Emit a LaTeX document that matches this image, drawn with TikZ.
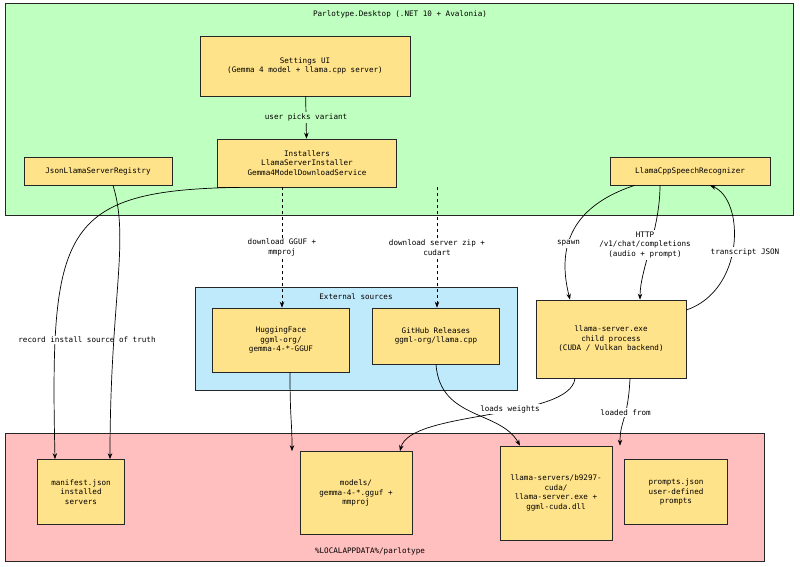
\documentclass[tikz,border=0pt]{standalone}
\usepackage{fontspec}
\setmonofont{DejaVu Sans Mono}
\usetikzlibrary{arrows.meta}
\begin{document}
\begin{tikzpicture}[x=1pt,y=-1pt,font=\ttfamily\fontsize{7.6}{9.5}\selectfont,
 grp/.style={draw=black!85,line width=0.7pt},
 box/.style={draw=black!85,fill=bx,line width=0.7pt,align=center,inner sep=3pt},
 ar/.style={-{Stealth[length=6pt]},line width=0.7pt},
 da/.style={ar,dashed},
 lab/.style={fill=white,align=center,inner sep=1.5pt}]
\definecolor{bx}{HTML}{FFE38A}
\useasboundingbox (0,0) rectangle (800,566);
\draw[grp,fill=green!25!white] (5,3) rectangle (793,215);
\node (t1) at (400,14) {Parlotype.Desktop (.NET 10 + Avalonia)};
\draw[grp,fill=cyan!25!white] (195,287) rectangle (517,390);
\node (t2) at (356,297) {External sources};
\draw[grp,fill=red!25!white] (5,433) rectangle (764,561);
\node (t3) at (370,551) {\%LOCALAPPDATA\%/parlotype};

\node[box,minimum width=210pt,minimum height=60pt] (set) at (305,66) {Settings UI\\(Gemma 4 model + llama.cpp server)};
\node[box,minimum width=179pt,minimum height=48pt] (ins) at (307,163) {Installers\\LlamaServerInstaller\\Gemma4ModelDownloadService};
\node[box,minimum width=148pt,minimum height=28pt] (reg) at (98,171) {JsonLlamaServerRegistry};
\node[box,minimum width=160pt,minimum height=28pt] (rec) at (690,171) {LlamaCppSpeechRecognizer};
\node[box,minimum width=137pt,minimum height=64pt] (hf) at (281,340) {HuggingFace\\ggml-org/\\gemma-4-*-GGUF};
\node[box,minimum width=127pt,minimum height=56pt] (gh) at (436,336) {GitHub Releases\\ggml-org/llama.cpp};
\node[box,minimum width=150pt,minimum height=78pt] (ls) at (611,339) {llama-server.exe\\child process\\(CUDA / Vulkan backend)};
\node[box,minimum width=87pt,minimum height=65pt] (man) at (81,492) {manifest.json\\installed\\servers};
\node[box,minimum width=112pt,minimum height=83pt] (mod) at (356,493) {models/\\gemma-4-*.gguf +\\mmproj};
\node[box,minimum width=112pt,minimum height=94pt] (lsv) at (556,493) {llama-servers/b9297-\\cuda/\\llama-server.exe +\\ggml-cuda.dll};
\node[box,minimum width=103pt,minimum height=65pt] (pr) at (676,492) {prompts.json\\user-defined\\prompts};

\draw[ar] (set) -- node[lab,fill=green!25!white]{user picks variant} (ins);
\draw[ar] (ins.200) .. controls (60,190) and (50,230) .. (man.north west -| 55,0);
\node[lab] (l1) at (87,340) {record install source of truth};
\draw[ar] (reg.south) ++(15,0) .. controls (130,240) and (110,300) .. (man.north -| 110,0);
\draw[da] (ins.south -| 282,0) -- node[lab]{download GGUF +\\mmproj} (hf.north -| 282,0);
\draw[da] (ins.south -| 437,0) -- node[lab]{download server zip +\\cudart} (gh.north -| 437,0);
\draw[ar] (rec.south west) ++(25,0) .. controls (560,210) and (560,260) .. node[lab,pos=0.55]{spawn} (ls.north -| 570,0);
\draw[ar] (rec.south) ++(-30,0) .. controls (660,230) and (640,270) .. (ls.north -| 640,0);
\node[lab] (http) at (645,245) {HTTP\\/v1/chat/completions\\(audio + prompt)};
\draw[ar] (ls.east |- 0,310) .. controls (745,290) and (745,200) .. (rec.south -| 710,0);
\node[lab] (l2) at (745,252) {transcript JSON};
\draw[ar] (hf.south -| 290,0) .. controls (290,420) and (292,420) .. (mod.north -| 292,0);
\draw[ar] (gh.south) .. controls (440,420) and (500,410) .. (lsv.north -| 520,0);
\draw[ar] (ls.south -| 575,0) .. controls (570,420) and (410,410) .. (mod.north -| 400,0);
\node[lab] (l3) at (510,409) {loads weights};
\draw[ar] (ls.south -| 630,0) .. controls (628,420) and (620,420) .. node[lab,pos=0.4]{loaded from} (lsv.north -| 620,0);
\end{tikzpicture}
\end{document}
